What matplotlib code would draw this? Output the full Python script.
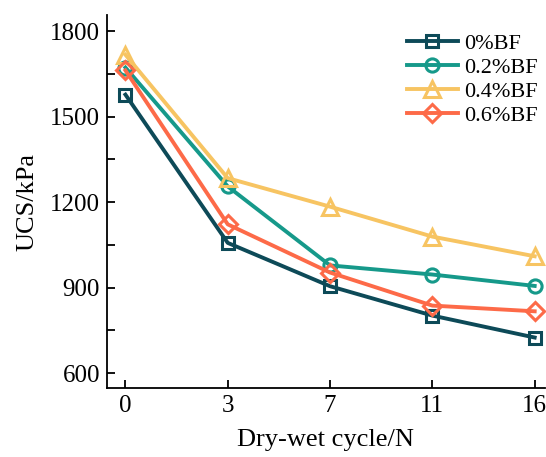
import matplotlib.pyplot as plt
from matplotlib.ticker import MultipleLocator

plt.rcParams['font.family'] = ['Liberation Serif', 'DejaVu Serif']

cycles = ['0', '3', '7', '11', '16']
labels = ['0%BF', '0.2%BF', '0.4%BF', '0.6%BF']
bf0 = [1577, 1057, 905, 802, 725]
bf02 = [1672, 1255, 978, 946, 906]
bf04 = [1717, 1284, 1184, 1079, 1010]
bf06 = [1662, 1122, 953, 837, 817]

colors = ['#0d4a58', '#16998a', '#f7c462', '#fd6a48']
markers = ['s', 'o', '^', 'D']
sizes = [8, 9.5, 11, 9.5]

fig = plt.figure(figsize=(5.46, 4.57), dpi=100)
ax = fig.add_axes([0.196, 0.151, 0.802, 0.816])

x = list(range(len(cycles)))
for y, lab, c, m, s in zip([bf0, bf02, bf04, bf06], labels, colors, markers, sizes):
    ax.plot(x, y, color=c, lw=2.8, marker=m, ms=s, mfc='none', mew=2.2,
            label=lab, solid_joinstyle='round')

ax.set_xlim(-0.18, 4.1)
ax.set_ylim(548, 1856)
ax.set_xticks(x)
ax.set_xticklabels(cycles)
ax.yaxis.set_major_locator(MultipleLocator(300))
ax.yaxis.set_minor_locator(MultipleLocator(150))
ax.tick_params(direction='in', labelsize=18, width=1.3, length=6, pad=5)
ax.tick_params(axis='y', which='minor', direction='in', width=1.3, length=6)
ax.spines['top'].set_visible(False)
ax.spines['right'].set_visible(False)
ax.spines['left'].set_linewidth(1.3)
ax.spines['bottom'].set_linewidth(1.3)

ax.set_xlabel('Dry-wet cycle/N', fontsize=19, labelpad=9)
ax.set_ylabel('UCS/kPa', fontsize=19, labelpad=8)

ax.legend(loc='upper right', frameon=False, fontsize=16, handlelength=2.3,
          borderaxespad=0.0, labelspacing=0.15, handletextpad=0.3,
          bbox_to_anchor=(1.005, 0.975))

fig.savefig('out.png', dpi=100)
